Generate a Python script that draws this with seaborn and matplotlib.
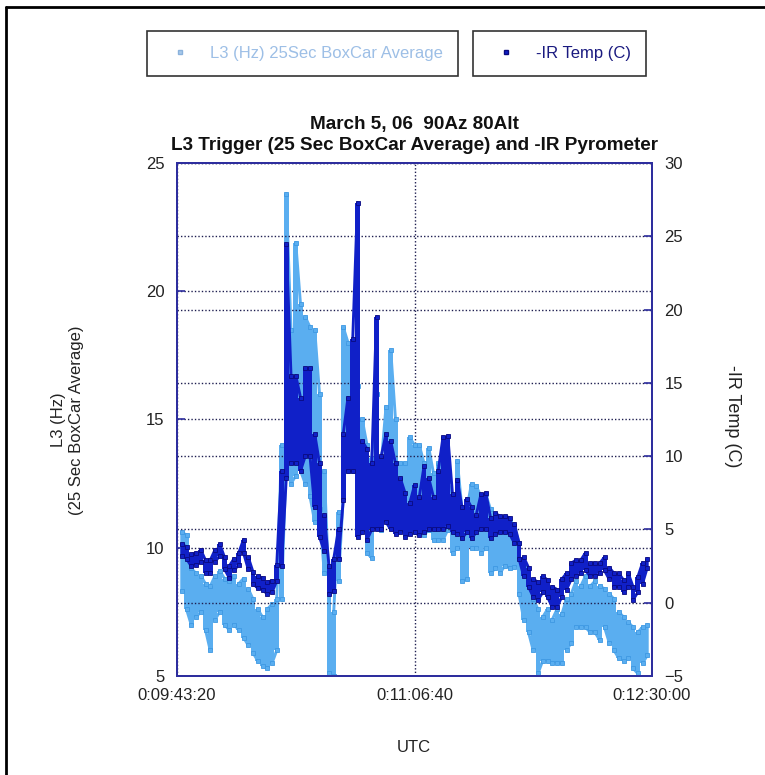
import matplotlib
matplotlib.use("Agg")
import matplotlib.pyplot as plt
from matplotlib import font_manager
from matplotlib.lines import Line2D
from matplotlib.ticker import FuncFormatter
import pandas as pd
import seaborn as sns

# Sample times, seconds of the day
time_s = [
    35100, 35200, 35300, 35400, 35500, 35600, 35700, 35800, 35900, 36000,
    36100, 36200, 36300, 36400, 36500, 36600, 36700, 36800, 36900, 37000,
    37100, 37200, 37300, 37400, 37500, 37600, 37700, 37800, 37900, 38000,
    38100, 38200, 38300, 38400, 38500, 38600, 38700, 38800, 38900, 39000,
    39100, 39200, 39300, 39400, 39500, 39600, 39700, 39800, 39900, 40000,
    40100, 40200, 40300, 40400, 40500, 40600, 40700, 40800, 40900, 41000,
    41100, 41200, 41300, 41400, 41500, 41600, 41700, 41800, 41900, 42000,
    42100, 42200, 42300, 42400, 42500, 42600, 42700, 42800, 42900, 43000,
    43100, 43200, 43300, 43400, 43500, 43600, 43700, 43800, 43900, 44000,
    44100, 44200, 44300, 44400, 44500, 44600, 44700, 44800, 44900,
]

# L3 trigger rate (Hz), 25 s boxcar average: low / high of each sample window
l3_lo = [
    8.3, 7.6, 7.0, 7.3, 7.5, 6.8, 6.0, 7.2, 7.5, 7.0,
    6.8, 7.0, 6.8, 6.5, 6.2, 5.9, 5.6, 5.4, 5.3, 5.5,
    6.0, 8.0, 13.5, 12.5, 12.8, 13.0, 12.5, 12.0, 11.0, 11.5,
    9.0, 5.1, 5.0, 8.7, 12.0, 13.0, 13.0, 12.5, 11.0, 9.8,
    9.6, 11.5, 10.7, 11.4, 11.5, 11.4, 10.7, 10.7, 10.6, 10.6,
    10.6, 10.5, 10.7, 10.3, 10.3, 10.3, 10.7, 9.8, 10.0, 8.7,
    8.8, 10.0, 10.0, 9.8, 10.0, 9.0, 9.2, 9.0, 9.3, 9.2,
    9.25, 8.2, 7.2, 6.7, 6.0, 5.1, 5.6, 5.6, 5.5, 5.5,
    5.5, 6.0, 6.3, 6.9, 6.9, 6.9, 6.7, 6.7, 6.4, 6.9,
    6.3, 6.0, 5.7, 5.6, 5.7, 5.3, 5.1, 5.5, 5.8,
]
l3_hi = [
    10.6, 10.5, 9.2, 9.0, 8.9, 8.6, 8.5, 8.9, 9.1, 8.8,
    8.7, 8.9, 8.6, 8.8, 8.4, 8.0, 7.6, 7.3, 7.6, 7.8,
    8.0, 14.0, 23.8, 18.5, 21.9, 19.5, 19.0, 18.6, 18.5, 16.0,
    13.0, 8.5, 7.5, 11.4, 18.6, 18.0, 17.0, 16.3, 15.0, 14.0,
    13.5, 16.0, 13.3, 15.5, 17.7, 15.0, 13.3, 13.3, 14.3, 14.0,
    14.0, 13.3, 13.9, 12.9, 13.3, 13.3, 12.6, 12.0, 13.4, 11.5,
    11.5, 12.5, 12.4, 12.0, 12.1, 11.5, 11.3, 11.2, 11.0, 11.0,
    10.8, 10.2, 9.2, 8.5, 8.0, 7.6, 7.3, 7.6, 7.2, 7.6,
    7.4, 8.0, 8.2, 8.7, 8.5, 8.9, 8.5, 8.7, 8.5, 8.4,
    8.2, 8.0, 7.5, 7.3, 7.1, 6.9, 6.7, 6.9, 7.0,
]

# Negated IR pyrometer temperature (C): low / high of each sample window
ir_lo = [
    3.2, 3.0, 2.5, 2.6, 2.8, 2.0, 2.0, 2.8, 3.2, 2.3,
    1.7, 2.2, 2.6, 3.4, 2.3, 1.3, 1.0, 0.9, 0.6, 0.7,
    1.5, 2.5, 8.5, 9.5, 9.5, 9.0, 10.0, 10.0, 6.5, 4.5,
    3.5, 0.6, 0.8, 3.0, 7.0, 9.0, 9.0, 4.5, 4.8, 4.3,
    5.0, 5.0, 5.0, 5.5, 5.0, 4.7, 4.8, 4.5, 4.7, 4.8,
    4.6, 4.8, 5.0, 5.0, 5.0, 5.0, 5.2, 4.8, 4.7, 4.4,
    4.8, 4.4, 4.8, 5.0, 5.0, 4.4, 4.7, 4.8, 4.8, 4.7,
    4.1, 3.0, 1.8, 1.1, 0.4, 0.2, 0.7, 0.4, -0.3, -0.3,
    0.4, 0.9, 1.6, 1.8, 2.0, 2.2, 1.8, 1.8, 2.0, 2.2,
    1.6, 1.1, 1.1, 0.7, 1.1, 0.2, 0.7, 1.3, 2.4,
]
ir_hi = [
    4.0, 3.8, 3.3, 3.4, 3.6, 2.9, 2.9, 3.6, 4.0, 3.1,
    2.5, 3.0, 3.4, 4.3, 3.1, 2.1, 1.8, 1.7, 1.4, 1.5,
    2.6, 9.0, 24.5, 15.5, 15.5, 14.0, 16.0, 16.0, 11.5, 9.5,
    6.0, 2.5, 3.0, 5.0, 11.5, 14.0, 18.0, 27.3, 11.0, 10.5,
    9.5, 19.5, 10.0, 11.5, 11.0, 9.5, 8.5, 7.5, 6.8, 8.0,
    7.2, 9.3, 8.5, 7.2, 9.0, 11.3, 11.4, 7.4, 8.4, 6.5,
    7.1, 6.5, 6.0, 7.4, 7.5, 5.8, 6.1, 5.9, 5.9, 5.8,
    5.4, 4.1, 3.1, 2.4, 1.6, 1.4, 1.8, 1.55, 1.1, 0.9,
    1.6, 2.0, 2.7, 2.9, 2.9, 3.4, 2.7, 2.7, 2.7, 3.1,
    2.4, 2.0, 2.0, 1.55, 2.0, 1.1, 1.75, 2.7, 3.0,
]

x_ticks = [35000, 40000, 45000]
l3_ticks = [5, 10, 15, 20, 25]
ir_ticks = [-5, 0, 5, 10, 15, 20, 25, 30]

title_text = "March 5, 06  90Az 80Alt\nL3 Trigger (25 Sec BoxCar Average) and -IR Pyrometer"
l3_label = "L3 (Hz) 25Sec BoxCar Average"
ir_label = "-IR Temp (C)"

L3_COLOR = "#5AAEF0"
L3_EDGE = "#3E98E2"
IR_COLOR = "#1020C8"
IR_EDGE = "#0A0A80"
FRAME = "#2E2E9E"
GRID = "#1E1E50"

sns.set_theme(style="white")
available = {f.name for f in font_manager.fontManager.ttflist}
main_font = ["Liberation Sans", "DejaVu Sans"]
narrow_font = (["Liberation Sans Narrow"] if "Liberation Sans Narrow" in available else []) + main_font
plt.rcParams["font.family"] = main_font


def window_path(times, lo, hi):
    """Trace each window low->high, then high->low, so the band reads as one trace."""
    xs, ys = [], []
    for i, (t, a, b) in enumerate(zip(times, lo, hi)):
        first, second = (a, b) if i % 2 == 0 else (b, a)
        xs += [t, t]
        ys += [first, second]
    return pd.DataFrame({"t": xs, "v": ys})


l3_df = window_path(time_s, l3_lo, l3_hi)
ir_df = window_path(time_s, ir_lo, ir_hi)

fig = plt.figure(figsize=(7.65, 7.75), dpi=100)
ax = fig.add_axes([177 / 765, 99 / 775, 475 / 765, 513 / 775])
ax2 = ax.twinx()

# Filled range of each sample window, with the sampled trace on top
ax.fill_between(time_s, l3_lo, l3_hi, step="mid", color=L3_COLOR, lw=0, zorder=2)
sns.lineplot(data=l3_df, x="t", y="v", ax=ax, sort=False, estimator=None,
             color=L3_COLOR, lw=2.1, marker="s", markersize=3.3,
             markeredgecolor=L3_EDGE, markeredgewidth=0.6, legend=False, zorder=3)
ax2.fill_between(time_s, ir_lo, ir_hi, step="mid", color=IR_COLOR, lw=0, zorder=2)
sns.lineplot(data=ir_df, x="t", y="v", ax=ax2, sort=False, estimator=None,
             color=IR_COLOR, lw=2.1, marker="s", markersize=3.3,
             markeredgecolor=IR_EDGE, markeredgewidth=0.6, legend=False, zorder=3)

ax.set_xlim(35000, 45000)
ax.set_ylim(5, 25)
ax2.set_ylim(-5, 30)
ax.set_xticks(x_ticks)
ax.set_yticks(l3_ticks)
ax2.set_yticks(ir_ticks)


def clock(v, _pos):
    s = int(round(v))
    return f"0:{s // 3600:02d}:{(s % 3600) // 60:02d}:{s % 60:02d}"


ax.xaxis.set_major_formatter(FuncFormatter(clock))
ax.set_xlabel("")
ax.set_ylabel("")
ax2.set_ylabel("")

grid_kw = dict(ls=(0, (1, 1.5)), color=GRID, lw=1.0)
ax.grid(True, axis="both", **grid_kw)
ax2.grid(True, axis="y", **grid_kw)
ax.set_axisbelow(True)

for a in (ax, ax2):
    for sp in a.spines.values():
        sp.set_color(FRAME)
        sp.set_linewidth(1.4)
        sp.set_visible(True)

ax.tick_params(axis="y", direction="in", length=6, width=1.2, color=FRAME,
               labelsize=12, pad=9, left=True, labelcolor="#222222")
ax2.tick_params(axis="y", direction="in", length=6, width=1.2, color=FRAME,
                labelsize=12, pad=9, right=True, labelcolor="#222222")
ax.tick_params(axis="x", direction="in", length=0, labelsize=12, pad=9,
               labelcolor="#222222")

ax.set_title(title_text, fontsize=13.6, fontweight="bold", pad=9, linespacing=1.35,
             color="#111111")

fig.text(68 / 765, 1 - 420 / 775, "L3 (Hz)\n(25 Sec BoxCar Average)", rotation=90,
         ha="center", va="center", multialignment="center", fontsize=12,
         color="#222222", family=narrow_font, linespacing=1.25)
fig.text(733 / 765, 1 - 416 / 775, ir_label, rotation=270, ha="center", va="center",
         fontsize=13, color="#222222", family=narrow_font)
fig.text(414 / 765, 1 - 748 / 775, "UTC", ha="center", va="center", fontsize=12,
         color="#222222")

h1 = Line2D([], [], ls="none", marker="s", markersize=3.5, color="#A9C9EA",
            markeredgecolor="#8AB2DC")
h2 = Line2D([], [], ls="none", marker="s", markersize=3.5, color=IR_COLOR,
            markeredgecolor=IR_EDGE)
leg_kw = dict(loc="upper left", frameon=True, fancybox=False, edgecolor="black",
              fontsize=12, borderpad=0.9, handlelength=2.1, handletextpad=0.8,
              borderaxespad=0)
leg1 = fig.legend([h1], [l3_label], bbox_to_anchor=(147 / 765, 1 - 31 / 775),
                  labelcolor="#9DBFE6", **leg_kw)
leg2 = fig.legend([h2], [ir_label], bbox_to_anchor=(473 / 765, 1 - 31 / 775),
                  labelcolor="#1A1A80", **leg_kw)
for lg in (leg1, leg2):
    lg.get_frame().set_linewidth(1.2)
    lg.get_frame().set_facecolor("white")

# Outer frame lines along the top and left edges
fig.add_artist(Line2D([6 / 765, 6 / 765], [0, 1 - 7 / 775], transform=fig.transFigure,
                      color="black", lw=2.0))
fig.add_artist(Line2D([6 / 765, 1], [1 - 7 / 775, 1 - 7 / 775], transform=fig.transFigure,
                      color="black", lw=2.0))

fig.savefig("out.png", dpi=100, facecolor="white")
